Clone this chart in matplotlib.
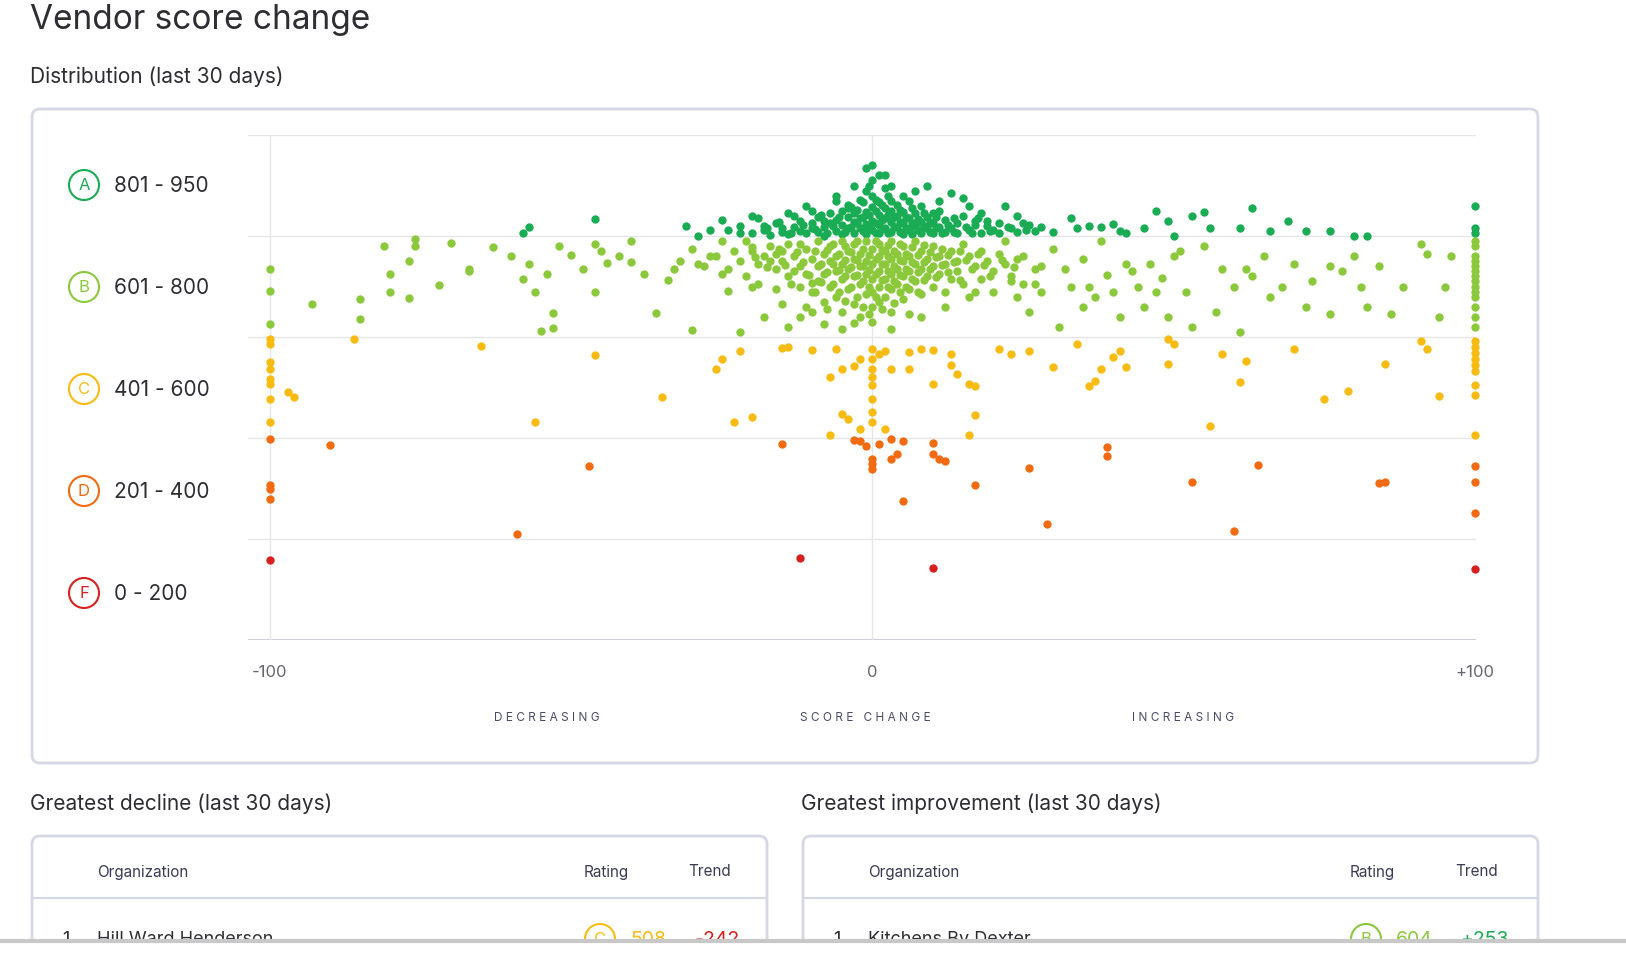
import matplotlib
matplotlib.use("Agg")
import matplotlib.pyplot as plt
from matplotlib.patches import FancyBboxPatch, Circle, Rectangle

plt.rcParams["font.family"] = "Inter"

W, H = 1626, 978
grades = ["A", "B", "C", "D", "F"]
grade_ranges = ["801 - 950", "601 - 800", "401 - 600", "201 - 400", "0 - 200"]
grade_colors = ["#1aab55", "#8cc83c", "#f7bb12", "#f26b10", "#d7211f"]
x_ticks = [-100, 0, 100]
x_tick_labels = ["-100", "0", "+100"]

pts_A = [(-46,834),(-57,817),(-58,805),(-31,820),(-29,800),(-27,812),(-25,831),(-22,806),(-20,840),(-18,820),
 (-15,815),(-13,839),(-10,850),(-8,830),(-6,870),(-4,855),(-1,935),(0,940),(1,920),(3,900),(5,880),(8,860),
 (10,845),(13,885),(15,875),(17,830),(19,820),(22,860),(24,840),(25,825),(28,818),(30,808),(33,835),(34,815),
 (36,820),(38,818),(40,823),(41,810),(42,805),(45,815),(47,850),(49,830),(50,800),(53,840),(55,848),(56,815),
 (61,815),(63,855),(66,810),(69,830),(72,810),(76,810),(80,800),(82,800),(100,805),(100,815),(100,860),
 (-20,806),(-18,812),(-17,802),(-16,825),(-15,808),(-14,803),(-13,818),(-12,810),(-12,830),(-11,805),(-10,815),
 (-10,826),(-9,808),(-9,838),(-8,800),(-8,818),(-7,845),(-7,826),(-6,810),(-6,832),(-5,804),(-5,822),(-5,850),
 (-4,816),(-4,838),(-4,862),(-3,806),(-3,828),(-3,845),(-2,815),(-2,835),(-2,872),(-1,803),(-1,824),(-1,848),
 (-1,890),(0,812),(0,830),(0,858),(0,880),(0,910),(1,806),(1,822),(1,842),(1,868),(2,815),(2,835),(2,855),
 (2,895),(3,808),(3,828),(3,850),(3,870),(4,818),(4,840),(4,862),(5,804),(5,826),(5,848),(6,812),(6,835),
 (6,870),(7,820),(7,845),(8,806),(8,828),(9,815),(9,838),(10,805),(10,825),(11,818),(11,850),(12,808),(12,832),
 (13,815),(14,826),(14,805),(15,840),(16,812),(17,822),(18,805),(18,845),(19,830),(20,812),(21,805),(21,825),
 (23,815),(24,808),(26,822),(27,810),(-22,820),(-24,812),(-19,835),(-14,845),(-11,860),(-6,880),(2,920),
 (-3,900),(7,890),(11,870),(16,860),(9,900),
 (-17.5,815),(-15.5,828),(-13.5,806),(-11.5,822),(-9.5,813),(-8.5,842),(-7.5,806),(-6.5,820),(-5.5,838),
 (-4.5,808),(-3.5,818),(-3.5,858),(-2.5,826),(-2.5,852),(-1.5,810),(-1.5,838),(-1.5,868),(-0.5,818),(-0.5,842),
 (-0.5,900),(0.5,805),(0.5,826),(0.5,850),(0.5,872),(1.5,814),(1.5,832),(1.5,862),(2.5,805),(2.5,842),
 (2.5,880),(3.5,818),(3.5,838),(4.5,808),(4.5,828),(4.5,852),(5.5,815),(5.5,838),(6.5,804),(6.5,825),
 (6.5,856),(7.5,812),(7.5,834),(8.5,820),(8.5,845),(9.5,808),(9.5,828),(10.5,815),(10.5,838),(11.5,806),
 (12.5,822),(13.5,808),(13.5,835),(15.5,818),(16.5,805),(17.5,835),(19.5,810),(22.5,818),(25.5,812)]

pts_B = [(-100,735),(-100,691),(-100,626),(-93,665),(-85,675),(-85,636),(-81,780),(-80,725),(-80,689),(-77,750),
 (-77,677),(-76,780),(-76,795),(-72,703),(-70,786),(-67,735),(-67,731),(-63,778),(-60,760),(-58,715),(-57,745),
 (-56,689),(-55,611),(-54,725),(-53,617),(-53,648),(-52,780),(-50,762),(-48,735),(-46,689),(-46,785),(-45,770),
 (-44,746),(-42,760),(-40,790),(-40,748),(-38,725),(-36,648),(-34,712),(-33,735),(-32,750),(-30,774),(-30,614),
 (-28,740),(-26,760),(-25,725),(-24,691),(-22,610),(-21,790),(-20,778),(-19,705),(-18,640),(-17,750),(-16,695),
 (-15,770),(-14,620),(-13,730),(-12,785),(-11,660),(-10,706),
 (22,790),(23,720),(24,680),(25,760),(26,650),(27,705),(28,740),(28,690),(30,775),(31,620),(32,735),(33,700),
 (35,660),(35,755),(36,700),(37,680),(38,790),(39,722),(40,690),(41,640),(42,745),(43,730),(44,700),(45,660),
 (46,745),(47,690),(48,717),(49,640),(50,760),(51,770),(52,690),(53,620),(55,780),(57,650),(58,735),(60,700),
 (61,610),(62,735),(63,720),(65,760),(66,680),(68,700),(70,745),(72,660),(73,710),(76,740),(76,645),(78,730),
 (80,760),(81,700),(82,660),(84,740),(86,645),(88,700),(91,785),(92,765),(94,640),(95,700),(96,760),
 (100,620),(100,640),(100,660),(100,680),(100,690),(100,700),(100,710),(100,720),(100,730),(100,740),(100,750),
 (100,760),(100,780),(100,790),
 (-20,770),(-19,745),(-18,760),(-17,780),(-16,735),(-16,765),(-15,750),(-14,785),(-14,720),(-13,760),(-12,740),
 (-12,700),(-11,775),(-11,725),(-10,755),(-10,690),(-9,790),(-9,740),(-9,710),(-8,765),(-8,725),(-8,670),
 (-7,780),(-7,750),(-7,700),(-6,760),(-6,730),(-6,680),(-5,790),(-5,745),(-5,715),(-5,650),(-4,770),(-4,735),
 (-4,695),(-3,785),(-3,755),(-3,720),(-3,665),(-2,765),(-2,740),(-2,705),(-2,640),(-1,790),(-1,750),(-1,725),
 (-1,685),(0,775),(0,745),(0,715),(0,690),(0,660),(0,630),(1,785),(1,760),(1,730),(1,700),(1,670),(2,770),
 (2,745),(2,715),(2,680),(3,790),(3,755),(3,725),(3,695),(3,650),(4,765),(4,735),(4,705),(5,780),(5,750),
 (5,720),(5,675),(6,760),(6,730),(6,695),(7,790),(7,745),(7,710),(8,770),(8,735),(8,685),(9,755),(9,720),
 (10,780),(10,740),(10,700),(11,760),(11,725),(12,745),(12,690),(13,770),(13,715),(14,750),(14,730),(15,785),
 (15,705),(16,760),(16,680),(17,740),(18,770),(18,715),(19,750),(20,730),(20,690),(21,765),(22,745),(23,710),
 (24,755),(-22,750),(-23,770),(-24,735),(-25,790),(-21,720),(-27,760),(-29,745),(-20,700),(-15,665),(-12,640),
 (-8,625),(-5,615),(3,615),(8,640),(12,660),(17,690),(25,705),(27,735),(-10,650),(6,645),(-3,628),
 (-19.5,758),(-17.5,738),(-15.5,775),(-14.5,742),(-13.5,705),(-12.5,768),(-11.5,748),(-10.5,722),(-9.5,770),
 (-9.5,690),(-8.5,745),(-8.5,708),(-7.5,772),(-7.5,728),(-7.5,655),(-6.5,785),(-6.5,745),(-6.5,705),(-5.5,765),
 (-5.5,732),(-5.5,690),(-4.5,780),(-4.5,752),(-4.5,720),(-4.5,672),(-3.5,768),(-3.5,738),(-3.5,700),(-2.5,790),
 (-2.5,752),(-2.5,722),(-2.5,680),(-1.5,775),(-1.5,740),(-1.5,710),(-1.5,660),(-0.5,762),(-0.5,732),(-0.5,700),
 (-0.5,645),(0.5,790),(0.5,755),(0.5,725),(0.5,680),(1.5,772),(1.5,745),(1.5,712),(1.5,655),(2.5,782),
 (2.5,760),(2.5,730),(2.5,700),(3.5,770),(3.5,740),(3.5,710),(3.5,668),(4.5,785),(4.5,752),(4.5,722),(4.5,690),
 (5.5,765),(5.5,735),(5.5,700),(6.5,778),(6.5,748),(6.5,715),(7.5,762),(7.5,728),(7.5,690),(8.5,782),(8.5,748),
 (8.5,712),(9.5,768),(9.5,735),(10.5,758),(10.5,718),(11.5,775),(11.5,742),(12.5,762),(12.5,728),(13.5,748),
 (14.5,770),(14.5,712),(15.5,752),(16.5,735),(17.5,765),(18.5,742),(19.5,720),(21.5,752),(23.5,738)]

pts_C = [(-100,596),(-100,586),(-100,550),(-100,537),(-100,517),(-100,507),(-100,477),(-100,432),(-97,491),(-96,481),
 (-86,596),(-65,582),(-56,432),(-46,564),(-35,481),(-26,537),(-25,556),(-23,432),(-22,572),(-20,442),(-15,578),
 (-14,580),(-10,574),(-7,521),(-7,406),(-6,576),(-5,447),(-5,537),(-4,438),(-3,543),(-2,418),(-2,556),
 (0,576),(0,556),(0,537),(0,521),(0,505),(0,477),(0,452),(0,432),(1,566),(2,418),(2,572),(3,537),(6,570),
 (6,537),(8,576),(10,574),(10,507),(13,566),(13,545),(14,527),(16,507),(16,406),(17,503),(17,446),(21,576),
 (23,566),(26,572),(30,541),(34,586),(36,503),(37,513),(38,537),(40,560),(41,572),(42,541),(49,596),(49,547),
 (50,586),(56,424),(58,566),(61,511),(62,552),(70,576),(75,477),(79,493),(85,547),(91,592),(92,576),(94,483),
 (100,592),(100,580),(100,568),(100,556),(100,545),(100,533),(100,505),(100,485),(100,406)]

pts_D = [(-100,398),(-90,386),(-100,307),(-100,299),(-100,279),(-59,210),(-47,344),(-15,388),(-3,396),(0,358),
 (0,348),(0,339),(1,388),(3,398),(3,358),(4,368),(5,394),(5,275),(10,390),(10,368),(11,358),(12,354),(17,307),
 (26,340),(29,230),(39,382),(39,364),(53,313),(60,216),(64,346),(84,311),(85,313),(100,344),(100,313),(100,251),
 (-2,394),(-1,384)]

pts_F = [(-100,158),(-12,162),(10,143),(100,141)]

series = [pts_A, pts_B, pts_C, pts_D, pts_F]

fig = plt.figure(figsize=(W/100, H/100), dpi=100)
bg = fig.add_axes([0, 0, 1, 1])
bg.set_xlim(0, W); bg.set_ylim(H, 0); bg.axis("off")

txt = "#2d2d33"
bg.text(30, 20, "Vendor score change", fontsize=24, color=txt, va="center")
bg.text(30, 77, "Distribution (last 30 days)", fontsize=15, color=txt, va="center")
bg.add_patch(FancyBboxPatch((32, 110), 1506, 654, boxstyle="round,pad=0,rounding_size=8",
                            fc="white", ec="#d6d8e6", lw=2))

for i, (g, r, c) in enumerate(zip(grades, grade_ranges, grade_colors)):
    y = 186 + i * 102
    bg.add_patch(Circle((84, y), 15, fc="white", ec=c, lw=1.5))
    bg.text(84, y, g, color=c, fontsize=12, ha="center", va="center")
    bg.text(114, y, r, color=txt, fontsize=15, va="center")

for xl, lab in zip([547, 865, 1183], ["D E C R E A S I N G", "S C O R E   C H A N G E", "I N C R E A S I N G"]):
    bg.text(xl, 718, lab, fontsize=8.5, color="#4a4a68", ha="center", va="center")

bg.text(30, 804, "Greatest decline (last 30 days)", fontsize=15, color=txt, va="center")
bg.text(801, 804, "Greatest improvement (last 30 days)", fontsize=15, color=txt, va="center")

for x0, cols, row in [(32, (97, 606, 710), ("Hill Ward Henderson", "C", "508", "-242", grade_colors[2], grade_colors[4])),
                      (803, (868, 1372, 1477), ("Kitchens By Dexter", "B", "604", "+253", grade_colors[1], grade_colors[0]))]:
    bg.add_patch(FancyBboxPatch((x0, 837), 735, 200, boxstyle="round,pad=0,rounding_size=8",
                                fc="white", ec="#d6d8e6", lw=2))
    bg.text(cols[0], 872, "Organization", fontsize=11, color="#3a3a55", va="center")
    bg.text(cols[1], 872, "Rating", fontsize=11, color="#3a3a55", va="center", ha="center")
    bg.text(cols[2], 872, "Trend", fontsize=11, color="#3a3a55", va="center", ha="center")
    bg.plot([x0, x0 + 735], [899, 899], color="#d6d8e6", lw=1.5)
    bg.text(x0 + 30, 940, "1", fontsize=13, color=txt, va="center")
    bg.text(cols[0], 940, row[0], fontsize=13, color=txt, va="center")
    bg.add_patch(Circle((cols[1] - 6, 940), 15, fc="white", ec=row[4], lw=1.5))
    bg.text(cols[1] - 6, 940, row[1], fontsize=12, color=row[4], ha="center", va="center")
    bg.text(cols[1] + 42, 940, row[2], fontsize=14, color=row[4], ha="center", va="center")
    bg.text(cols[2] + 7, 940, row[3], fontsize=14, color=row[5], ha="center", va="center")
bg.add_patch(Rectangle((0, 941), W, 40, fc="white", ec="none", zorder=5))
bg.plot([0, W], [941.5, 941.5], color="#c8c8c8", lw=3, zorder=6)

# scatter axes
L, R, T, B = 248, 1476, 136, 641
ax = fig.add_axes([L / W, (H - B) / H, (R - L) / W, (B - T) / H])
ax.patch.set_alpha(0)
xl0 = -100 + (L - 270) / 6.025
xl1 = 100 + (R - 1475) / 6.025
ax.set_xlim(xl0, xl1); ax.set_ylim(0, 1000)
for s in ax.spines.values():
    s.set_visible(False)
ax.set_yticks([]); ax.set_xticks([])
for yv in [200, 400, 600, 800, 1000]:
    ax.axhline(yv, color="#e6e6ea", lw=1, zorder=0)
ax.axhline(0, color="#cfd0d8", lw=1.5, zorder=0)
ax.axvline(0, color="#e6e6ea", lw=1, zorder=0)
ax.axvline(-100, color="#e6e6ea", lw=1, zorder=0)
for pts, c in zip(series, grade_colors):
    ax.scatter([p[0] for p in pts], [p[1] for p in pts], s=36, color=c, lw=0, zorder=3, clip_on=False)
for xv, lab in zip(x_ticks, x_tick_labels):
    ax.text(xv, -62, lab, fontsize=12, color="#666670", ha="center", va="center")

fig.savefig("out.png", dpi=100)
